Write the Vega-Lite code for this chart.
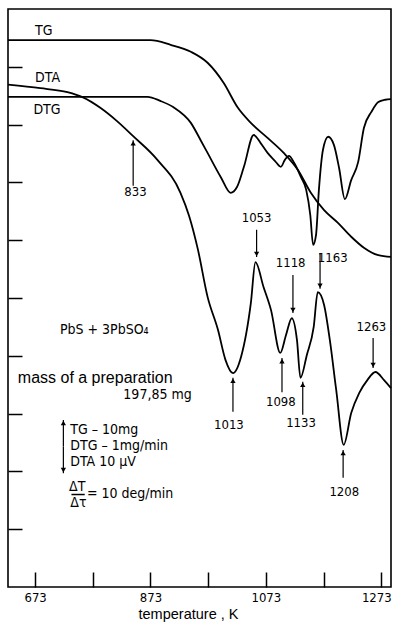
{
  "$schema": "https://vega.github.io/schema/vega-lite/v6.json",
  "width": 383,
  "height": 578,
  "autosize": {"type": "none"},
  "padding": {"left": 8, "top": 9, "right": 2, "bottom": 35},
  "background": "white",
  "config": {
    "view": {"stroke": "black", "strokeWidth": 1.6},
    "font": "DejaVu Sans Condensed, sans-serif"
  },
  "datasets": {
    "curves": [
      {"series": "TG", "T": 626, "v": 9.46}, {"series": "TG", "T": 786, "v": 9.46}, {"series": "TG", "T": 873, "v": 9.46},
      {"series": "TG", "T": 908, "v": 9.38}, {"series": "TG", "T": 943, "v": 9.26}, {"series": "TG", "T": 972, "v": 9.07},
      {"series": "TG", "T": 1000, "v": 8.72}, {"series": "TG", "T": 1024, "v": 8.30}, {"series": "TG", "T": 1047, "v": 8.03},
      {"series": "TG", "T": 1076, "v": 7.77}, {"series": "TG", "T": 1104, "v": 7.51}, {"series": "TG", "T": 1129, "v": 7.21},
      {"series": "TG", "T": 1151, "v": 6.82}, {"series": "TG", "T": 1174, "v": 6.52}, {"series": "TG", "T": 1198, "v": 6.30},
      {"series": "TG", "T": 1221, "v": 6.06}, {"series": "TG", "T": 1243, "v": 5.87}, {"series": "TG", "T": 1268, "v": 5.74},
      {"series": "TG", "T": 1290, "v": 5.71},
      {"series": "DTA", "T": 626, "v": 8.69}, {"series": "DTA", "T": 682, "v": 8.63}, {"series": "DTA", "T": 729, "v": 8.56},
      {"series": "DTA", "T": 756, "v": 8.47}, {"series": "DTA", "T": 786, "v": 8.29}, {"series": "DTA", "T": 815, "v": 8.06},
      {"series": "DTA", "T": 843, "v": 7.80}, {"series": "DTA", "T": 885, "v": 7.39}, {"series": "DTA", "T": 925, "v": 6.82},
      {"series": "DTA", "T": 940, "v": 6.42}, {"series": "DTA", "T": 955, "v": 5.85},
      {"series": "DTA", "T": 972, "v": 5.02}, {"series": "DTA", "T": 990, "v": 4.45}, {"series": "DTA", "T": 1003, "v": 3.93},
      {"series": "DTA", "T": 1016, "v": 3.70}, {"series": "DTA", "T": 1030, "v": 3.98}, {"series": "DTA", "T": 1047, "v": 4.91},
      {"series": "DTA", "T": 1055, "v": 5.62}, {"series": "DTA", "T": 1069, "v": 5.19}, {"series": "DTA", "T": 1082, "v": 4.79},
      {"series": "DTA", "T": 1098, "v": 4.05}, {"series": "DTA", "T": 1108, "v": 4.36}, {"series": "DTA", "T": 1118, "v": 4.65},
      {"series": "DTA", "T": 1127, "v": 4.27}, {"series": "DTA", "T": 1133, "v": 3.62}, {"series": "DTA", "T": 1144, "v": 4.01},
      {"series": "DTA", "T": 1156, "v": 4.50}, {"series": "DTA", "T": 1163, "v": 5.10}, {"series": "DTA", "T": 1174, "v": 4.88},
      {"series": "DTA", "T": 1184, "v": 4.27}, {"series": "DTA", "T": 1195, "v": 3.41}, {"series": "DTA", "T": 1208, "v": 2.46},
      {"series": "DTA", "T": 1221, "v": 3.01}, {"series": "DTA", "T": 1235, "v": 3.36}, {"series": "DTA", "T": 1249, "v": 3.58},
      {"series": "DTA", "T": 1263, "v": 3.72}, {"series": "DTA", "T": 1278, "v": 3.58}, {"series": "DTA", "T": 1290, "v": 3.44},
      {"series": "DTG", "T": 626, "v": 8.48}, {"series": "DTG", "T": 786, "v": 8.48}, {"series": "DTG", "T": 868, "v": 8.48},
      {"series": "DTG", "T": 890, "v": 8.41}, {"series": "DTG", "T": 913, "v": 8.30}, {"series": "DTG", "T": 943, "v": 8.03},
      {"series": "DTG", "T": 960, "v": 7.73}, {"series": "DTG", "T": 972, "v": 7.51}, {"series": "DTG", "T": 995, "v": 7.09},
      {"series": "DTG", "T": 1012, "v": 6.82}, {"series": "DTG", "T": 1023, "v": 6.92}, {"series": "DTG", "T": 1035, "v": 7.27},
      {"series": "DTG", "T": 1052, "v": 7.82}, {"series": "DTG", "T": 1064, "v": 7.68}, {"series": "DTG", "T": 1076, "v": 7.51},
      {"series": "DTG", "T": 1089, "v": 7.37}, {"series": "DTG", "T": 1099, "v": 7.27}, {"series": "DTG", "T": 1106, "v": 7.39},
      {"series": "DTG", "T": 1113, "v": 7.46}, {"series": "DTG", "T": 1122, "v": 7.34}, {"series": "DTG", "T": 1134, "v": 7.09},
      {"series": "DTG", "T": 1143, "v": 6.87}, {"series": "DTG", "T": 1150, "v": 6.44}, {"series": "DTG", "T": 1155, "v": 5.92},
      {"series": "DTG", "T": 1160, "v": 6.09}, {"series": "DTG", "T": 1165, "v": 6.87}, {"series": "DTG", "T": 1172, "v": 7.56},
      {"series": "DTG", "T": 1181, "v": 7.79}, {"series": "DTG", "T": 1191, "v": 7.65}, {"series": "DTG", "T": 1200, "v": 7.25},
      {"series": "DTG", "T": 1210, "v": 6.71}, {"series": "DTG", "T": 1221, "v": 7.04}, {"series": "DTG", "T": 1233, "v": 7.35},
      {"series": "DTG", "T": 1243, "v": 7.94}, {"series": "DTG", "T": 1256, "v": 8.22}, {"series": "DTG", "T": 1268, "v": 8.39},
      {"series": "DTG", "T": 1280, "v": 8.43}, {"series": "DTG", "T": 1290, "v": 8.44}
    ],
    "arrows": [
      {"T": 843, "tail": 6.94, "tip": 7.73, "dir": "up"},
      {"T": 1057, "tail": 6.18, "tip": 5.71, "dir": "down"},
      {"T": 1016, "tail": 3.03, "tip": 3.62, "dir": "up"},
      {"T": 1120, "tail": 5.40, "tip": 4.74, "dir": "down"},
      {"T": 1167, "tail": 5.78, "tip": 5.16, "dir": "down"},
      {"T": 1101, "tail": 3.37, "tip": 3.96, "dir": "up"},
      {"T": 1137, "tail": 2.98, "tip": 3.55, "dir": "up"},
      {"T": 1207, "tail": 1.89, "tip": 2.37, "dir": "up"},
      {"T": 1259, "tail": 4.31, "tip": 3.79, "dir": "down"},
      {"T": 722, "tail": 2.43, "tip": 2.89, "dir": "up"},
      {"T": 722, "tail": 2.43, "tip": 1.97, "dir": "down"}
    ],
    "numbers": [
      {"T": 847, "v": 6.83, "label": "833"},
      {"T": 1057, "v": 6.38, "label": "1053"},
      {"T": 1009, "v": 2.80, "label": "1013"},
      {"T": 1116, "v": 5.61, "label": "1118"},
      {"T": 1189, "v": 5.69, "label": "1163"},
      {"T": 1099, "v": 3.20, "label": "1098"},
      {"T": 1134, "v": 2.84, "label": "1133"},
      {"T": 1209, "v": 1.64, "label": "1208"},
      {"T": 1256, "v": 4.50, "label": "1263"}
    ],
    "frac": [
      {"T": 746, "v": 1.73, "label": "ΔT"},
      {"T": 748, "v": 1.45, "label": "Δτ"}
    ],
    "notes": [
      {"T": 673, "v": 9.62, "label": "TG"},
      {"T": 673, "v": 8.81, "label": "DTA"},
      {"T": 670, "v": 8.25, "label": "DTG"},
      {"T": 716, "v": 4.45, "label": "PbS + 3PbSO₄"},
      {"T": 826, "v": 3.32, "label": "197,85 mg"},
      {"T": 734, "v": 2.72, "label": "TG – 10mg"},
      {"T": 734, "v": 2.44, "label": "DTG – 1mg/min"},
      {"T": 734, "v": 2.16, "label": "DTA   10 μV"},
      {"T": 763, "v": 1.61, "label": "= 10 deg/min"}
    ],
    "wide": [
      {"T": 643, "v": 3.62, "label": "mass of a preparation"}
    ],
    "fraction": [{"T": 736, "T2": 759, "v": 1.60}]
  },
  "layer": [
    {
      "data": {"name": "curves"},
      "mark": {"type": "line", "color": "black", "strokeWidth": 1.8, "interpolate": "monotone"},
      "encoding": {
        "x": {"field": "T", "type": "quantitative", "scale": {"domain": [626, 1290], "nice": false, "zero": false},
          "axis": {
            "values": [673, 773, 873, 973, 1073, 1173, 1273],
            "labelExpr": "(datum.value - 673) % 200 == 0 ? datum.label : ''",
            "format": "d",
            "tickSize": -15, "tickWidth": 1.5, "tickColor": "black",
            "labelPadding": 19, "labelFontSize": 13, "labelColor": "black",
            "labelFlush": 15, "labelFlushOffset": 10,
            "domain": false, "grid": false,
            "title": "temperature , K", "titleFont": "Liberation Sans, sans-serif", "titleFontSize": 14.5,
            "titleFontWeight": "normal", "titleColor": "black",
            "titleX": 180, "titleY": 27, "titleAlign": "center", "titleBaseline": "middle"
          }},
        "y": {"field": "v", "type": "quantitative", "scale": {"domain": [0, 10], "nice": false},
          "axis": {
            "values": [1, 2, 3, 4, 5, 6, 7, 8, 9],
            "labels": false, "tickSize": -14, "tickWidth": 1.5, "tickColor": "black",
            "domain": false, "grid": false, "title": null
          }},
        "detail": {"field": "series"}
      }
    },
    {
      "data": {"name": "arrows"},
      "mark": {"type": "rule", "color": "black", "strokeWidth": 1.2},
      "encoding": {
        "x": {"field": "T", "type": "quantitative"},
        "y": {"field": "tail", "type": "quantitative"},
        "y2": {"field": "tip"}
      }
    },
    {
      "data": {"name": "arrows"},
      "transform": [{"filter": "datum.dir == 'up'"}],
      "mark": {"type": "point", "shape": "triangle-up", "filled": true, "color": "black", "size": 28, "opacity": 1, "yOffset": 3},
      "encoding": {
        "x": {"field": "T", "type": "quantitative"},
        "y": {"field": "tip", "type": "quantitative"}
      }
    },
    {
      "data": {"name": "arrows"},
      "transform": [{"filter": "datum.dir == 'down'"}],
      "mark": {"type": "point", "shape": "triangle-down", "filled": true, "color": "black", "size": 28, "opacity": 1, "yOffset": -3},
      "encoding": {
        "x": {"field": "T", "type": "quantitative"},
        "y": {"field": "tip", "type": "quantitative"}
      }
    },
    {
      "data": {"name": "numbers"},
      "mark": {"type": "text", "align": "center", "baseline": "middle", "fontSize": 13, "color": "black"},
      "encoding": {
        "x": {"field": "T", "type": "quantitative"},
        "y": {"field": "v", "type": "quantitative"},
        "text": {"field": "label"}
      }
    },
    {
      "data": {"name": "frac"},
      "mark": {"type": "text", "align": "center", "baseline": "middle", "fontSize": 14, "color": "black"},
      "encoding": {
        "x": {"field": "T", "type": "quantitative"},
        "y": {"field": "v", "type": "quantitative"},
        "text": {"field": "label"}
      }
    },
    {
      "data": {"name": "notes"},
      "mark": {"type": "text", "align": "left", "baseline": "middle", "fontSize": 14, "color": "black"},
      "encoding": {
        "x": {"field": "T", "type": "quantitative"},
        "y": {"field": "v", "type": "quantitative"},
        "text": {"field": "label"}
      }
    },
    {
      "data": {"name": "wide"},
      "mark": {"type": "text", "align": "left", "baseline": "middle", "fontSize": 16, "color": "black", "font": "Liberation Sans, sans-serif"},
      "encoding": {
        "x": {"field": "T", "type": "quantitative"},
        "y": {"field": "v", "type": "quantitative"},
        "text": {"field": "label"}
      }
    },
    {
      "data": {"name": "fraction"},
      "mark": {"type": "rule", "color": "black", "strokeWidth": 1.5},
      "encoding": {
        "x": {"field": "T", "type": "quantitative"},
        "x2": {"field": "T2"},
        "y": {"field": "v", "type": "quantitative"}
      }
    }
  ]
}
